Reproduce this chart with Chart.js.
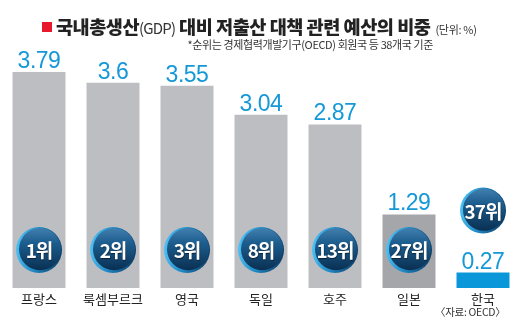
<!DOCTYPE html>
<html><head><meta charset="utf-8">
<script src="https://cdn.jsdelivr.net/npm/chart.js@4.4.1/dist/chart.umd.min.js"></script>
<style>
html,body{margin:0;padding:0;background:#fff;}
#wrap{position:relative;width:527px;height:332px;overflow:hidden;background:#fff;}
canvas{position:absolute;left:0;top:0;}
.t{position:absolute;white-space:nowrap;font-family:"Noto Sans CJK KR",sans-serif;}
#sq{position:absolute;left:42px;top:22px;width:10px;height:10px;background:#e8192c;}
#title{left:56px;top:12px;font-size:18.6px;font-weight:900;color:#222;letter-spacing:-0.5px;line-height:27px;}
#title .g{font-weight:400;font-size:15px;color:#333;letter-spacing:-0.8px;}
#title .u{font-weight:400;font-size:11px;color:#333;letter-spacing:-0.3px;margin-left:5px;}
#sub{right:94px;top:36px;font-size:11px;color:#333;letter-spacing:-0.4px;line-height:16px;}
#src{left:435px;top:304px;font-size:10.5px;color:#333;letter-spacing:-0.3px;line-height:15px;}
</style></head>
<body>
<div id="wrap">
<canvas id="c" width="527" height="332"></canvas>
<div id="sq"></div>
<div class="t" id="title">국내총생산<span class="g">(GDP)</span> 대비 저출산 대책 관련 예산의 비중<span class="u">(단위: %)</span></div>
<div class="t" id="sub">*순위는 경제협력개발기구(OECD) 회원국 등 38개국 기준</div>
<div class="t" id="src">〈자료: OECD〉</div>
</div>
<script>
const categories = ['프랑스','룩셈부르크','영국','독일','호주','일본','한국'];
const values = [3.79, 3.6, 3.55, 3.04, 2.87, 1.29, 0.27];
const ranks = ['1위','2위','3위','8위','13위','27위','37위'];

const KR = '"Noto Sans CJK KR", sans-serif';

function barColor(i){
  if (categories[i] === '한국') return '#0a97da';
  if (categories[i] === '일본') return '#a5a6aa';
  return '#bdbec2';
}

function drawBadge(ctx, x, y, r, text){
  ctx.save();
  ctx.beginPath(); ctx.arc(x, y, r, 0, Math.PI*2);
  const rim = ctx.createLinearGradient(x-r, y, x+r, y+r*0.3);
  rim.addColorStop(0, '#4ec0f2'); rim.addColorStop(0.45, '#1f86c2'); rim.addColorStop(1, '#0b3a62');
  ctx.fillStyle = rim; ctx.fill();
  ctx.beginPath(); ctx.arc(x+1, y-0.8, r-2, 0, Math.PI*2);
  const g = ctx.createLinearGradient(0, y-r, 0, y+r);
  g.addColorStop(0, '#4481b0'); g.addColorStop(0.35, '#1c5d8e'); g.addColorStop(1, '#082b4c');
  ctx.fillStyle = g; ctx.fill();
  ctx.fillStyle = '#ffffff';
  ctx.font = '700 19px ' + KR;
  ctx.letterSpacing = '-1px';
  ctx.textAlign = 'center';
  ctx.textBaseline = 'middle';
  ctx.shadowColor = 'rgba(0,0,0,0.5)'; ctx.shadowBlur = 1; ctx.shadowOffsetX = 0.5; ctx.shadowOffsetY = 0.5;
  ctx.fillText(text, x, y+1);
  ctx.restore();
}

const labelPlugin = {
  id: 'labels',
  afterDatasetsDraw(chart){
    const ctx = chart.ctx;
    const meta = chart.getDatasetMeta(0);
    meta.data.forEach((bar, i) => {
      const top = bar.y, base = bar.base, x = bar.x;
      ctx.save();
      ctx.fillStyle = '#1598d7';
      ctx.font = '400 23px "Liberation Sans", Arial, sans-serif';
      ctx.letterSpacing = '-0.5px';
      ctx.textAlign = 'center';
      ctx.textBaseline = 'alphabetic';
      ctx.fillText(String(values[i]), x, top - 4);
      ctx.restore();
      const r = 23;
      let by = base - 38;
      if (base - top < 50) by = top - 62;
      drawBadge(ctx, x, by, r, ranks[i]);
    });
  }
};

new Chart(document.getElementById('c'), {
  type: 'bar',
  data: {
    labels: categories,
    datasets: [{
      data: values,
      backgroundColor: values.map((v, i) => barColor(i)),
      borderWidth: 0,
      barPercentage: 0.716,
      categoryPercentage: 1
    }]
  },
  options: {
    responsive: false,
    animation: false,
    events: [],
    layout: { padding: { left: 2, right: 7, top: 60, bottom: 0 } },
    plugins: { legend: { display: false }, tooltip: { enabled: false }, title: { display: false } },
    scales: {
      x: {
        offset: true,
        grid: { display: false, drawTicks: false },
        border: { display: false },
        ticks: { font: { family: KR, size: 13 }, color: '#222', padding: 3, maxRotation: 0 },
        afterFit: s => { s.height = 44; }
      },
      y: { display: false, min: 0, max: 4 }
    }
  },
  plugins: [labelPlugin]
});
</script>
</body></html>
